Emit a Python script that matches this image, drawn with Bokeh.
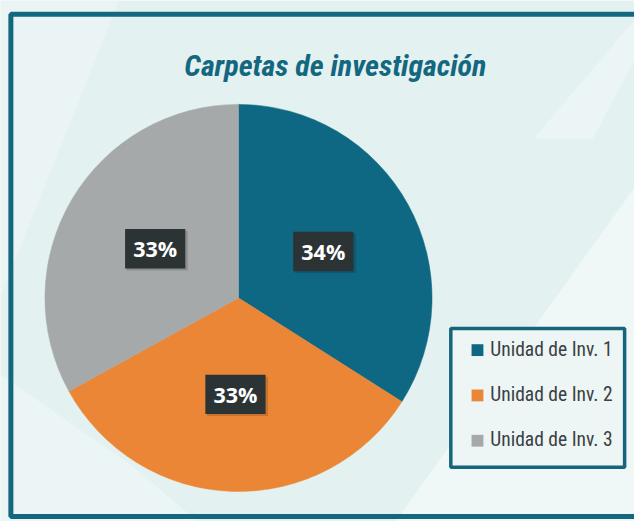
import numpy as np
from bokeh.plotting import figure
from bokeh.models import Range1d
from bokeh.core.properties import value
from bokeh.embed import file_html
from bokeh.resources import INLINE

# ---- data ----
title_text = "Carpetas de investigación"
categories = ["Unidad de Inv. 1", "Unidad de Inv. 2", "Unidad de Inv. 3"]
shares = [34, 33, 33]
pct_labels = ["34%", "33%", "33%"]
colors = ["#0F6883", "#EC8637", "#A6A9A9"]

W, H = 634, 521


def Y(y_img):
    return 529 - y_img


p = figure(width=W, height=H, x_range=Range1d(0, 642), y_range=Range1d(0, 529),
           output_backend="svg", toolbar_location=None, min_border=0)
p.axis.visible = False
p.grid.visible = False
p.outline_line_color = None
p.background_fill_color = "#E4F1F1"
p.border_fill_color = "#E4F1F1"

# soft diagonal light bands of the background
p.patch([0, 0, 120, 40], [Y(0), Y(300), Y(0), Y(0)], fill_color="#FFFFFF", fill_alpha=0.25, line_color=None)
p.patch([540, 642, 642, 600], [Y(140), Y(20), Y(60), Y(140)], fill_color="#FFFFFF", fill_alpha=0.3, line_color=None)
p.patch([400, 642, 642, 300], [Y(529), Y(190), Y(529), Y(529)], fill_color="#FFFFFF", fill_alpha=0.45, line_color=None)
p.patch([0, 0, 200, 130], [Y(380), Y(529), Y(529), Y(470)], fill_color="#FFFFFF", fill_alpha=0.3, line_color=None)

# frame
p.line([660, 10.5, 10.5, 660], [Y(14), Y(14), Y(524), Y(524)], line_color="#13677F", line_width=5)

# title
p.text(x=[339], y=[Y(66)], text=[title_text], text_align="center", text_baseline="middle",
       text_font=value("Roboto Condensed"), text_font_style="bold italic",
       text_font_size="30px", text_color="#13677F")

# pie
cx, cy, r = 241, Y(302), 196
frac = np.array(shares, dtype=float) / sum(shares)
cum = np.concatenate([[0.0], np.cumsum(frac)])
start = np.pi / 2 - 2 * np.pi * cum[:-1]
end = np.pi / 2 - 2 * np.pi * cum[1:]
p.wedge(x=cx, y=cy, radius=r, start_angle=start, end_angle=end, direction="clock",
        fill_color=colors, line_color=colors, line_width=0.5)

# labels
mid = (start + end) / 2
lx = cx + 0.5 * r * np.cos(mid)
ly = cy + 0.5 * r * np.sin(mid)
p.rect(x=lx + 2, y=ly - 2, width=62, height=40, fill_color="#000000", fill_alpha=0.15, line_color=None)
p.rect(x=lx, y=ly, width=61, height=40, fill_color="#2C3335", line_color=None)
p.text(x=lx, y=ly, text=pct_labels, text_align="center", text_baseline="middle",
       text_font=value("Open Sans"), text_font_style="bold", text_font_size="21.5px", text_color="#FFFFFF")

# legend
p.quad(left=456, right=632, top=Y(333), bottom=Y(474), fill_color="#EDF5F5",
       line_color="#16657D", line_width=3.5)
ys = np.array([Y(355), Y(401), Y(447)])
p.rect(x=[483] * 3, y=ys, width=12, height=12, fill_color=colors, line_color=None)
p.text(x=[496] * 3, y=ys + 1, text=categories, text_align="left", text_baseline="middle",
       text_font=value("Roboto Condensed"), text_font_size="19.5px", text_color="#3A4043")

open("out.html", "w").write(file_html(p, INLINE))
